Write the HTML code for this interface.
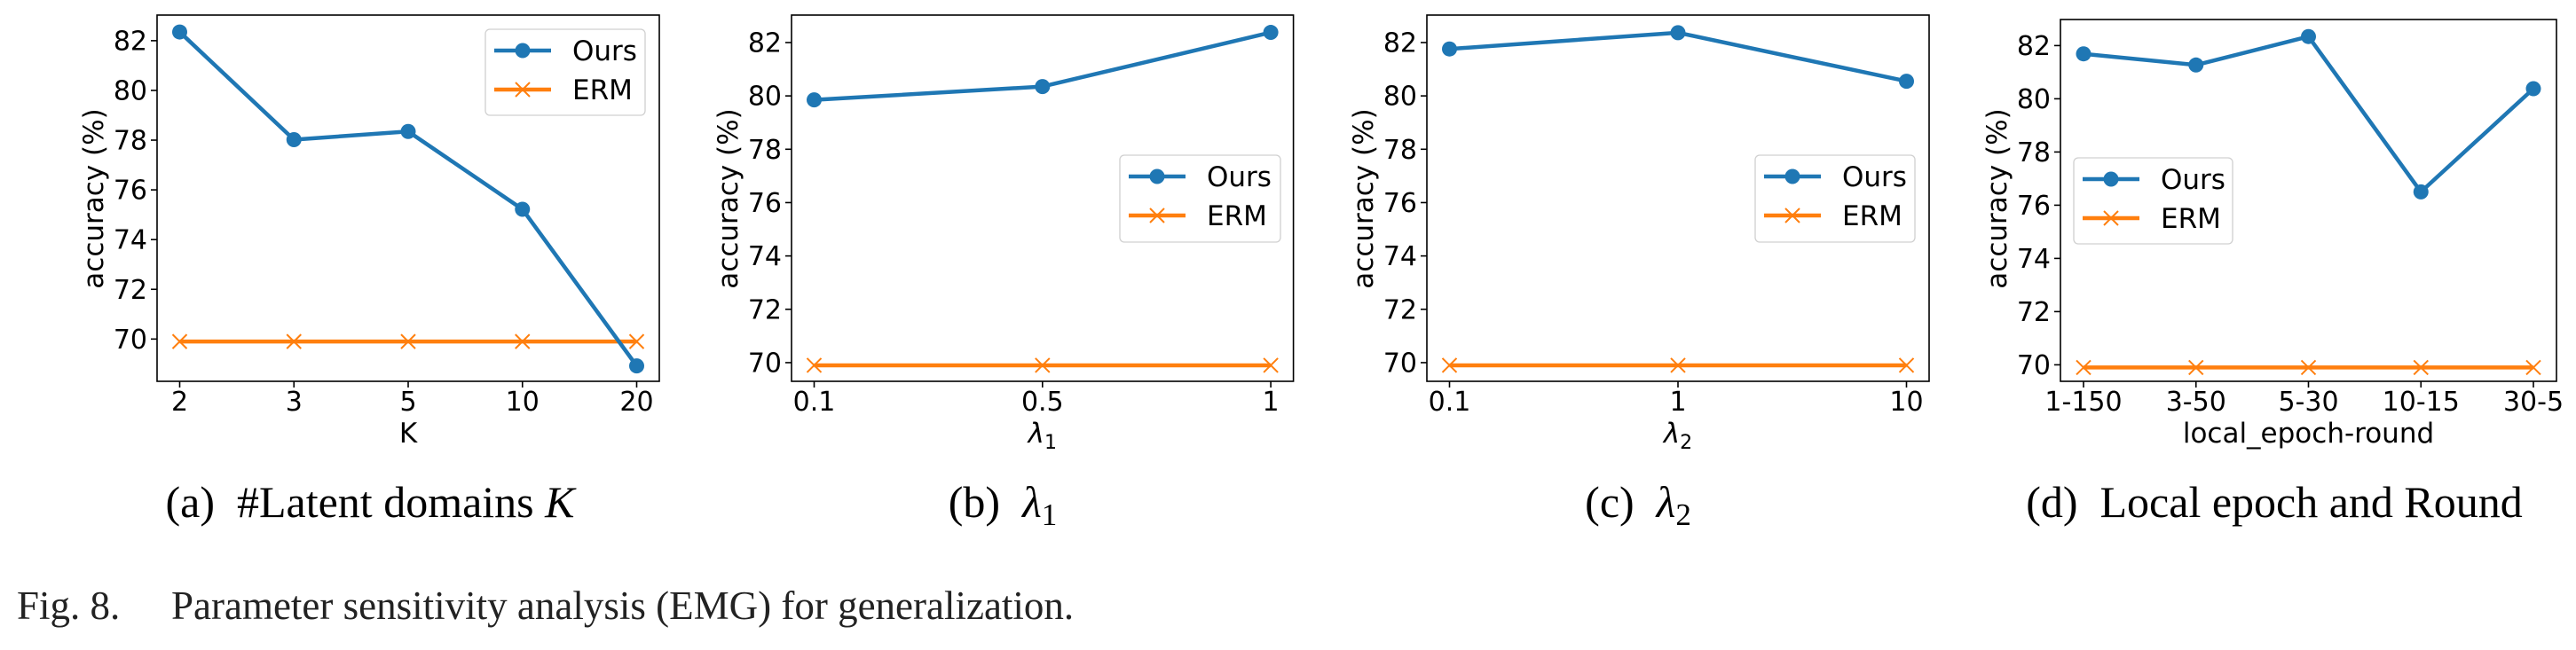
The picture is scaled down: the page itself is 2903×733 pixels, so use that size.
<!DOCTYPE html>
<html><head><meta charset="utf-8"><style>
html,body{margin:0;padding:0;background:#fff;}
svg{display:block;}
</style></head><body>
<svg id="fig" width="2903" height="733" viewBox="0 0 2903 733" xmlns="http://www.w3.org/2000/svg"></svg>
<script>
// ---- data ----
const catsA = ["2","3","5","10","20"];
const oursA = [82.35, 78.02, 78.35, 75.22, 68.92];
const ermA  = [69.9, 69.9, 69.9, 69.9, 69.9];
const catsB = ["0.1","0.5","1"];
const oursB = [79.85, 80.35, 82.38];
const ermB  = [69.9, 69.9, 69.9];
const catsC = ["0.1","1","10"];
const oursC = [81.76, 82.37, 80.55];
const ermC  = [69.9, 69.9, 69.9];
const catsD = ["1-150","3-50","5-30","10-15","30-5"];
const oursD = [81.69, 81.27, 82.34, 76.5, 80.38];
const ermD  = [69.9, 69.9, 69.9, 69.9, 69.9];
const yTicks = [70, 72, 74, 76, 78, 80, 82];

const NS = "http://www.w3.org/2000/svg";
const svg = document.getElementById("fig");
function mk(tag, attrs, parent){
  const e = document.createElementNS(NS, tag);
  for (const k in attrs) e.setAttribute(k, attrs[k]);
  (parent||svg).appendChild(e);
  return e;
}
const BLUE = "#1f77b4", ORANGE = "#ff7f0e";
const TF = "'DejaVu Sans', 'Liberation Sans', sans-serif";
const MR = 8.5;

const panels = [
  {id:"a", cats:catsA, ours:oursA, erm:ermA, x0:177, x1:743, y0:17, y1:430, ymin:68.3, ymax:83.03, xl:"K", sub:null,
   leg:{x:547,y:33,w:180,h:97}, cap:"#Latent domains ", capMath:"K", capSub:null, capX:417, pad:25.5},
  {id:"b", cats:catsB, ours:oursB, erm:ermB, x0:892, x1:1457.6, y0:17, y1:430, ymin:69.3, ymax:83.03, xl:"λ", sub:"1",
   leg:{x:1262,y:175,w:181,h:98}, cap:"", capMath:"λ", capSub:"1", capX:1130, pad:25.5},
  {id:"c", cats:catsC, ours:oursC, erm:ermC, x0:1608, x1:2174, y0:17, y1:430, ymin:69.3, ymax:83.03, xl:"λ", sub:"2",
   leg:{x:1978,y:175,w:180,h:98}, cap:"", capMath:"λ", capSub:"2", capX:1846, pad:25.5},
  {id:"d", cats:catsD, ours:oursD, erm:ermD, x0:2322, x1:2881, y0:22, y1:430, ymin:69.38, ymax:82.98, xl:"local_epoch-round", sub:null,
   leg:{x:2337,y:178,w:179,h:97}, cap:"Local epoch and Round", capMath:null, capSub:null, capX:2563, pad:26}
];

panels.forEach(p => {
  const g = mk("g", {});
  
  
  const n = p.cats.length;
  const xs = i => p.x0 + p.pad + i * (p.x1 - p.x0 - 2*p.pad) / (n - 1);
  const ys = v => p.y1 - (v - p.ymin) / (p.ymax - p.ymin) * (p.y1 - p.y0);

  yTicks.forEach(t => {
    const y = ys(t);
    if (y < p.y0 || y > p.y1) return;
    const tk = mk("line", {x1:p.x0-7, x2:p.x0, y1:y, y2:y, stroke:"#000", "stroke-width":1.6}, g);
    
    
    const tl = mk("text", {x:p.x0-11, y:y+10.5, "text-anchor":"end", "font-family":TF, "font-size":30, fill:"#000"}, g);
    tl.textContent = t;
    
    
  });
  p.cats.forEach((c, i) => {
    const x = xs(i);
    const tk = mk("line", {x1:x, x2:x, y1:p.y1, y2:p.y1+7, stroke:"#000", "stroke-width":1.6}, g);
    
    
    const tl = mk("text", {x:x, y:463, "text-anchor":"middle", "font-family":TF, "font-size":30, fill:"#000"}, g);
    tl.textContent = c;
    
    
  });
  const ycx = p.x0 - 71;
  const yl = mk("text", {x:ycx, y:224, transform:`rotate(-90 ${ycx} 224)`, "text-anchor":"middle", "dominant-baseline":"central", "font-family":TF, "font-size":31, fill:"#000"}, g);
  yl.textContent = "accuracy (%)";
  
  
  const xl = mk("text", {x:(p.x0+p.x1)/2, y:499, "text-anchor":"middle", "font-family":TF, "font-size":31, fill:"#000"}, g);
  if (p.sub) {
    const t1 = mk("tspan", {"font-style":"italic"}, xl); t1.textContent = p.xl;
    const t2 = mk("tspan", {"font-size":22, dy:7}, xl); t2.textContent = p.sub;
  } else xl.textContent = p.xl;
  
  

  const ermPts = p.erm.map((v,i)=>xs(i)+","+ys(v)).join(" ");
  const el = mk("polyline", {points:ermPts, fill:"none", stroke:ORANGE, "stroke-width":4.5}, g);
  
  
  p.erm.forEach((v,i) => {
    const x = xs(i), y = ys(v), s = 8;
    const m = mk("path", {d:`M${x-s},${y-s}L${x+s},${y+s}M${x-s},${y+s}L${x+s},${y-s}`, stroke:ORANGE, "stroke-width":2, fill:"none"}, g);
    
    
  });
  const oPts = p.ours.map((v,i)=>xs(i)+","+ys(v)).join(" ");
  const ol = mk("polyline", {points:oPts, fill:"none", stroke:BLUE, "stroke-width":4.5, "stroke-linejoin":"round"}, g);
  
  
  p.ours.forEach((v,i) => {
    const c = mk("circle", {cx:xs(i), cy:ys(v), r:MR, fill:BLUE}, g);
    
    
  });

  const fr = mk("rect", {x:p.x0, y:p.y0, width:p.x1-p.x0, height:p.y1-p.y0, fill:"none", stroke:"#000", "stroke-width":1.6}, g);
  
  

  const L = p.leg;
  const lg = mk("g", {}, g);
  
  
  mk("rect", {x:L.x, y:L.y, width:L.w, height:L.h, rx:5, fill:"#fff", "fill-opacity":0.8, stroke:"#d0d0d0", "stroke-width":1.3}, lg);
  const r1 = L.y + 24, r2 = L.y + 68, lx0 = L.x + 10, lx1 = L.x + 74, lmid = (lx0+lx1)/2;
  const e1 = mk("g", {}, lg);
  
  
  mk("line", {x1:lx0, x2:lx1, y1:r1, y2:r1, stroke:BLUE, "stroke-width":4.5}, e1);
  mk("circle", {cx:lmid, cy:r1, r:MR, fill:BLUE}, e1);
  const t1 = mk("text", {x:L.x+98, y:r1+11, "font-family":TF, "font-size":31, fill:"#000"}, e1);
  t1.textContent = "Ours";
  const e2 = mk("g", {}, lg);
  
  
  mk("line", {x1:lx0, x2:lx1, y1:r2, y2:r2, stroke:ORANGE, "stroke-width":4.5}, e2);
  mk("path", {d:`M${lmid-8},${r2-8}L${lmid+8},${r2+8}M${lmid-8},${r2+8}L${lmid+8},${r2-8}`, stroke:ORANGE, "stroke-width":2}, e2);
  const t2 = mk("text", {x:L.x+98, y:r2+11, "font-family":TF, "font-size":31, fill:"#000"}, e2);
  t2.textContent = "ERM";

  const cp = mk("text", {x:p.capX, y:583, "text-anchor":"middle", "font-family":"'Liberation Serif', serif", "font-size":50, fill:"#000"}, g);
  const ta = mk("tspan", {}, cp); ta.textContent = "(" + p.id + ")\u2002" + p.cap;
  if (p.capMath) { const tm = mk("tspan", {"font-style":"italic"}, cp); tm.textContent = p.capMath; }
  if (p.capSub) { const ts = mk("tspan", {"font-size":35, dy:9}, cp); ts.textContent = p.capSub; }
  
  
});

const fc = mk("text", {x:19, y:698, "font-family":"'Liberation Serif', serif", "font-size":45, fill:"#222"});
const f1 = mk("tspan", {}, fc); f1.textContent = "Fig. 8.";
const f2 = mk("tspan", {x:193}, fc); f2.textContent = "Parameter sensitivity analysis (EMG) for generalization.";


</script>
</body></html>
